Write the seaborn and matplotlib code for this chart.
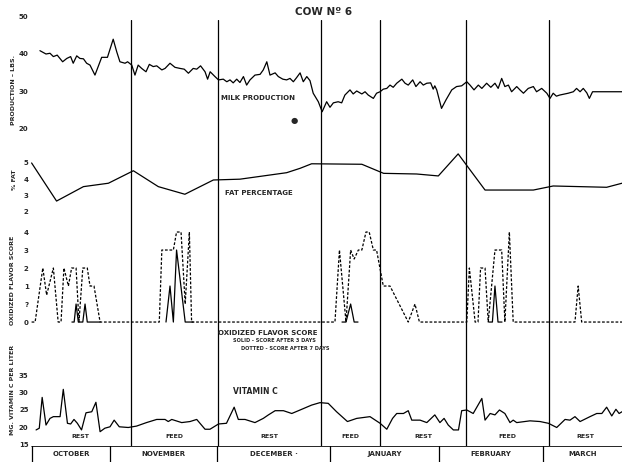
import numpy as np
import pandas as pd
import matplotlib
matplotlib.use("Agg")
import matplotlib.pyplot as plt
import seaborn as sns

# x = days from the start of the record (early October)
period_bounds = [-2.5, 29.1, 56.25, 88.4, 106.9, 133.75, 159.7, 182.5]
period_names = ["REST", "FEED", "REST", "FEED", "REST", "FEED", "REST"]
month_bounds = [-1.9, 22.5, 55.9, 91.25, 125.3, 157.8, 182.5]
month_names = ["OCTOBER", "NOVEMBER", "DECEMBER ·", "JANUARY", "FEBRUARY", "MARCH"]

# milk production, lbs
milk_day = [0.6, 2.5, 3.75, 4.8, 6.0, 7.7, 9.0, 10.2, 11.0, 12.1, 13.1, 14.2, 15.2, 16.25,
            17.8, 18.8, 19.9, 21.7, 23.5, 24.6, 25.6, 27.2, 28.0, 29.3, 30.3, 31.3, 32.4,
            33.75, 34.8, 36.0, 37.1, 38.7, 39.7, 41.25, 42.8, 44.4, 45.7, 47.0, 48.5, 49.6,
            50.8, 52.2, 53.0, 53.8, 55.3, 56.4, 57.9, 59.0, 60.0, 61.0, 62.1, 63.1, 64.2,
            65.2, 66.25, 67.8, 69.4, 70.4, 71.5, 72.5, 74.1, 75.1, 76.5, 77.7, 78.75, 79.8,
            80.8, 81.9, 82.9, 84.0, 85.0, 86.0, 87.6, 88.8, 90.2, 91.25, 92.3, 93.8, 94.9,
            95.9, 97.5, 98.5, 99.6, 101.2, 102.2, 103.2, 104.8, 105.8, 106.9, 107.9, 109.0,
            110.0, 111.0, 112.1, 113.7, 114.7, 115.7, 117.1, 118.1, 119.4, 120.4, 121.5,
            122.7, 123.5, 124.0, 124.6, 126.1, 127.5, 129.3, 130.8, 132.4, 134.0, 135.0,
            136.25, 137.6, 138.7, 140.2, 141.5, 142.8, 143.8, 144.9, 145.9, 147.0, 148.0,
            149.6, 150.6, 151.7, 153.2, 154.8, 155.8, 157.4, 159.0, 160.0, 161.0, 162.0,
            163.0, 165.7, 167.3, 168.3, 169.4, 170.4, 171.5, 172.3, 173.3, 182.5]
milk_lbs = [40.9, 40.0, 40.2, 39.3, 39.7, 37.9, 38.8, 39.3, 37.5, 39.5, 38.8, 38.7, 37.5, 37.0,
            34.3, 36.6, 39.1, 39.1, 44.0, 40.6, 37.9, 37.5, 37.9, 37.0, 34.3, 37.0, 36.1,
            35.2, 37.2, 36.6, 36.8, 35.7, 36.1, 37.5, 36.4, 36.1, 35.9, 34.8, 36.1, 35.9,
            36.8, 35.2, 33.2, 35.2, 33.9, 33.0, 33.2, 32.5, 33.0, 32.2, 33.2, 32.3, 33.9,
            31.6, 33.0, 34.3, 34.5, 35.7, 37.9, 34.3, 34.9, 33.9, 33.2, 33.0, 33.4, 32.5,
            33.6, 34.9, 32.5, 33.9, 32.8, 29.4, 27.1, 24.4, 27.1, 25.6, 26.8, 27.1, 26.8,
            28.9, 30.3, 29.2, 30.0, 29.2, 29.8, 28.9, 28.0, 29.4, 29.8, 30.5, 30.7,
            31.6, 31.0, 32.1, 33.2, 32.1, 31.6, 33.0, 31.2, 32.5, 31.6, 32.1,
            32.2, 30.5, 31.4, 30.3, 25.3, 27.6, 30.3, 31.2, 31.4, 32.5, 31.6,
            30.3, 31.6, 30.7, 32.1, 31.0, 32.1, 30.7, 33.4, 31.2, 31.6, 29.8,
            31.2, 30.3, 29.4, 30.7, 31.2, 29.8, 30.7, 29.4, 28.0, 29.4, 28.6,
            28.9, 29.4, 29.8, 30.7, 29.8, 30.7, 29.5, 28.0, 29.8, 29.8]

# fat percentage
fat_day = [-2.0, 5.8, 14.2, 22.0, 29.8, 37.6, 45.9, 54.8, 63.1, 77.7, 81.9, 85.5, 101.2,
           108.0, 118.3, 125.1, 131.3, 139.7, 154.8, 161.0, 177.7, 182.5]
fat_pct = [5.0, 2.65, 3.54, 3.75, 4.52, 3.54, 3.07, 3.95, 4.0, 4.4, 4.67, 4.95, 4.92,
           4.36, 4.32, 4.2, 5.56, 3.33, 3.33, 3.58, 3.5, 3.75]

# oxidized flavor score, plotted on the chart's scale positions 0..5
flavor_ticks = [0, 1, 2, 3, 4, 5]
flavor_labels = ["0", "?", "1", "2", "3", "4"]
dotted_day = [-2.0, -0.9, 1.5, 2.7, 4.8, 6.3, 7.2, 8.1, 9.5, 10.5, 11.9, 12.8, 14.0, 15.4,
              16.25, 17.5, 19.4, 37.9, 38.7, 42.3, 43.3, 44.7, 46.0, 47.3, 48.0, 92.8, 94.2,
              96.25, 97.7, 98.8, 100.1, 101.2, 102.5, 103.5, 104.8, 105.8, 107.9, 110.0,
              115.7, 117.8, 119.2, 134.0, 134.8, 136.6, 137.5, 138.3, 139.7, 140.7, 142.8,
              144.9, 145.9, 147.3, 148.5, 167.8, 168.8, 169.9, 182.5]
dotted_score = [0, 0, 3, 1.5, 3, 0, 0, 3, 2, 3, 3, 0, 3, 3,
                2, 2, 0, 0, 4, 4, 5, 5, 1, 5, 0, 0, 4,
                0, 4, 3.5, 4, 4, 5, 5, 4, 4, 2, 2,
                0, 1, 0, 0, 3, 0, 0, 3, 3, 0, 4,
                4, 0, 5, 0, 0, 2, 0, 0]
solid_seg = [1, 1, 1, 1, 1, 1, 1, 1, 2, 2, 2, 2, 2, 2, 3, 3, 3, 3, 3, 4, 4, 4, 4, 4]
solid_day = [10.6, 11.3, 11.9, 12.6, 14.0, 14.7, 15.4, 19.4,
             40.0, 41.25, 42.3, 43.3, 46.0, 48.5,
             95.0, 96.25, 97.7, 98.8, 100.0,
             141.0, 142.0, 142.8, 143.75, 145.0]
solid_score = [0, 0, 1, 0, 0, 1, 0, 0,
               0, 2, 0, 4, 0, 0,
               0, 0, 1, 0, 0,
               0, 0, 2, 0, 0]

# vitamin C, mg per liter
vit_day = [-0.6, 0.4, 1.3, 2.5, 3.75, 4.8, 6.9, 7.9, 9.2, 10.2, 11.25, 12.3, 13.6, 15.0,
           16.8, 18.1, 19.4, 20.9, 22.5, 23.8, 25.4, 28.2, 30.8, 33.9, 37.1, 39.7, 40.7,
           41.8, 44.9, 47.5, 49.6, 52.2, 53.75, 56.4, 58.9, 61.3, 62.6, 64.7, 67.8, 70.4,
           72.0, 74.1, 76.7, 79.3, 81.9, 85.5, 88.1, 90.7, 93.3, 96.7, 99.6, 103.75, 106.9,
           109.0, 110.8, 112.1, 114.2, 115.7, 116.8, 119.4, 121.5, 124.0, 125.6, 126.9,
           128.2, 129.8, 131.4, 132.4, 134.0, 136.0, 138.7, 139.7, 141.3, 142.8, 144.2,
           145.9, 147.5, 148.5, 149.6, 153.75, 156.9, 159.5, 162.1, 164.7, 166.25, 167.8,
           169.4, 172.5, 174.6, 176.2, 177.7, 179.3, 180.6, 181.6, 182.5]
vit_mg = [19.3, 19.8, 28.6, 20.7, 22.6, 23.1, 23.1, 30.9, 21.2, 21.0, 22.3, 21.2, 19.3, 24.2,
          24.5, 27.2, 18.8, 19.8, 20.2, 22.1, 20.2, 20.0, 20.4, 21.4, 22.3, 22.3, 21.7,
          22.3, 21.4, 21.7, 22.3, 19.5, 19.5, 21.0, 21.2, 25.8, 22.3, 22.3, 21.4, 22.6,
          23.6, 24.8, 24.8, 24.0, 25.0, 26.4, 27.1, 26.9, 24.5, 21.7, 22.6, 23.1, 21.2,
          19.5, 22.6, 24.0, 24.0, 24.8, 22.1, 22.1, 21.4, 23.6, 21.4, 22.6,
          20.7, 19.3, 19.3, 24.8, 25.0, 24.0, 28.3, 22.1, 24.0, 23.6, 25.0,
          24.0, 21.4, 22.1, 21.4, 21.9, 21.7, 21.2, 20.0, 22.3, 22.1, 23.1,
          21.7, 23.1, 24.0, 24.0, 25.8, 23.3, 25.2, 24.0, 24.5]

W, H = 622, 462


def box(top, bottom, left=30, right=622):
    return [left / W, 1 - bottom / H, (right - left) / W, (bottom - top) / H]


def ftext(x, y, s, **kw):
    kw.setdefault("fontweight", "bold")
    kw.setdefault("ha", "center")
    kw.setdefault("va", "center")
    fig.text(x / W, 1 - y / H, s, **kw)


sns.set_style("white")
plt.rcParams["font.family"] = ["DejaVu Sans"]
fig = plt.figure(figsize=(W / 100, H / 100), dpi=100)

xlim = (period_bounds[0], period_bounds[-1])
line_kw = dict(color="black", linewidth=0.9, estimator=None, sort=False)

# vertical rest/feed dividers
ax_bg = fig.add_axes(box(20, 446))
for b in period_bounds[1:-1]:
    ax_bg.axvline(b, color="black", linewidth=0.9)
ax_bg.set_xlim(xlim)
ax_bg.axis("off")


def panel(top, bottom, ylim, ticks, labels=None):
    ax = fig.add_axes(box(top, bottom))
    ax.patch.set_alpha(0)
    ax.set_xlim(xlim)
    ax.set_ylim(ylim)
    ax.set_yticks(ticks)
    ax.set_yticklabels(labels if labels else [str(t) for t in ticks],
                       fontsize=5, fontweight="bold")
    ax.set_xticks([])
    ax.tick_params(length=0, pad=1)
    for s in ax.spines.values():
        s.set_visible(False)
    ax.set_xlabel("")
    ax.set_ylabel("")
    return ax


ax_milk = panel(15, 130, (19.46, 50.54), [20, 30, 40, 50])
sns.lineplot(x=milk_day, y=milk_lbs, ax=ax_milk, **line_kw)

ax_fat = panel(150, 215, (1.79, 5.80), [2, 3, 4, 5])
sns.lineplot(x=fat_day, y=fat_pct, ax=ax_fat, **line_kw)

ax_flav = panel(225, 326, (-0.22, 5.39), flavor_ticks, flavor_labels)
sns.lineplot(x=dotted_day, y=dotted_score, ax=ax_flav, linestyle=(0, (2.2, 1.4)), **line_kw)
solid = pd.DataFrame({"day": solid_day, "score": solid_score, "seg": solid_seg})
sns.lineplot(data=solid, x="day", y="score", units="seg", ax=ax_flav, **line_kw)

ax_vit = panel(370, 446, (14.71, 36.43), [15, 20, 25, 30, 35])
sns.lineplot(x=vit_day, y=vit_mg, ax=ax_vit, **line_kw)
for ax in (ax_milk, ax_fat, ax_flav, ax_vit):
    ax.set_xlabel("")
    ax.set_ylabel("")
for a, b, name in zip(period_bounds[:-1], period_bounds[1:], period_names):
    ax_vit.text((a + b) / 2, 17.3, name, ha="center", va="center", fontsize=4.5,
                fontweight="bold")

# month strip
ax_m = fig.add_axes(box(446, 462))
ax_m.set_xlim(xlim)
ax_m.set_ylim(0, 1)
for b in month_bounds[:-1]:
    ax_m.axvline(b, color="black", linewidth=0.9)
ax_m.axhline(1, xmin=(month_bounds[0] - xlim[0]) / (xlim[1] - xlim[0]), color="black",
             linewidth=1.2)
for a, b, name in zip(month_bounds[:-1], month_bounds[1:], month_names):
    ax_m.text((a + b) / 2, 0.5, name, ha="center", va="center", fontsize=5,
              fontweight="bold")
ax_m.axis("off")

# titles and labels
ftext(324, 12, "COW Nº 6", fontsize=7.5)
ftext(258, 98, "MILK PRODUCTION", fontsize=5)
ftext(294, 120, "●", fontsize=6)
ftext(259, 193, "FAT PERCENTAGE", fontsize=5)
ftext(268, 333, "OXIDIZED FLAVOR SCORE", fontsize=5)
ftext(274, 341, "SOLID - SCORE AFTER 3 DAYS", fontsize=3.6)
ftext(285, 348, "DOTTED - SCORE AFTER 7 DAYS", fontsize=3.6)
ftext(255, 392, "VITAMIN C", fontsize=5.5)
ftext(14, 90, "PRODUCTION – LBS.", fontsize=4.5, rotation=90)
ftext(14, 180, "% FAT", fontsize=4.5, rotation=90)
ftext(13, 280, "OXIDIZED FLAVOR SCORE", fontsize=4.5, rotation=90)
ftext(12, 390, "MG. VITAMIN C PER LITER", fontsize=4.5, rotation=90)

fig.savefig("out.png", dpi=100, facecolor="white")
